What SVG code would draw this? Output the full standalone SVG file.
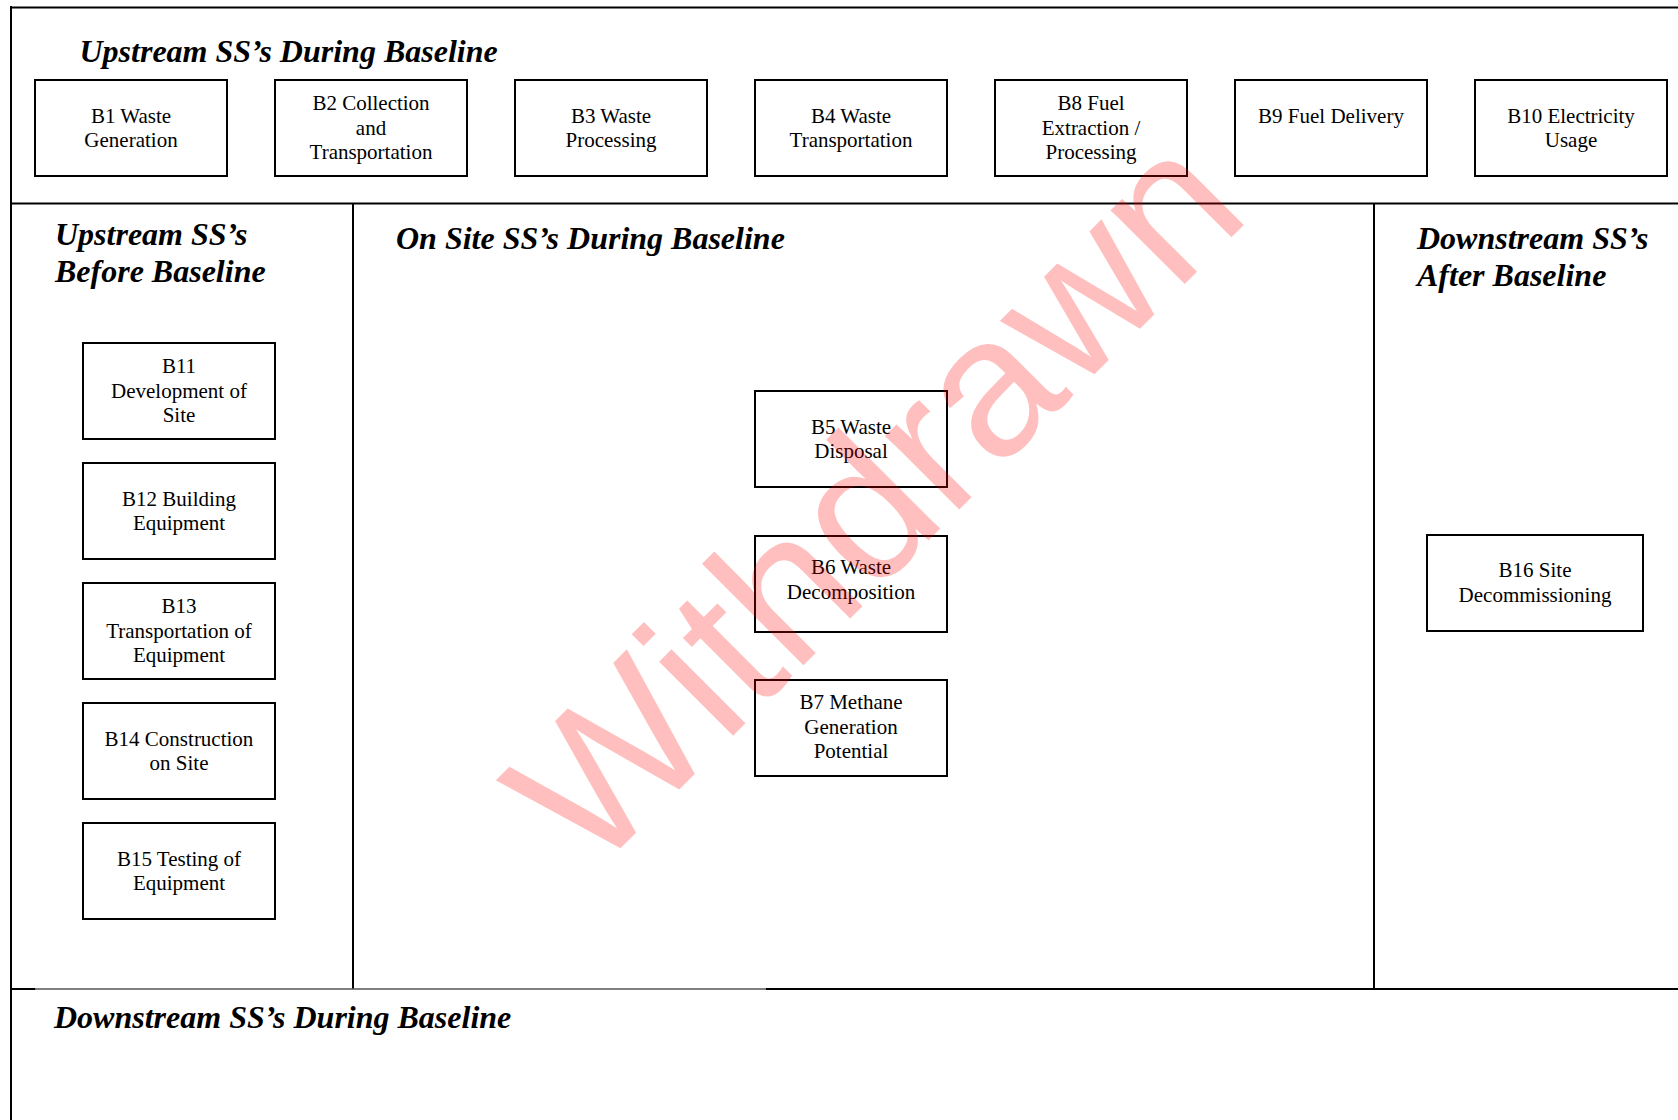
<svg xmlns="http://www.w3.org/2000/svg" width="1678" height="1120" viewBox="0 0 1678 1120">
<style>
.box { fill: #ffffff; stroke: #000000; stroke-width: 2; }
.lbl { font-family: "Liberation Serif", "Times New Roman", serif; font-size: 21px; text-anchor: middle; fill: #000000; }
.ttl { font-family: "Liberation Serif", "Times New Roman", serif; font-size: 32px; font-weight: bold; font-style: italic; fill: #000000; }
.frame { stroke: #000000; stroke-width: 2; fill: none; }
.thin { stroke: #555555; stroke-width: 1.3; fill: none; }
.wm { font-family: "Liberation Sans", Arial, sans-serif; font-size: 198px; fill: #ff0000; fill-opacity: 0.25; }
</style>
<rect x="0" y="0" width="1678" height="1120" fill="#ffffff"/>
<g id="frame">
  <line class="frame" x1="10" y1="7.5" x2="1678" y2="7.5" stroke-width="3"/>
  <line class="frame" x1="11" y1="6" x2="11" y2="1120"/>
  <line class="frame" x1="11" y1="203.5" x2="1678" y2="203.5"/>
  <line class="frame" x1="353" y1="203.5" x2="353" y2="989"/>
  <line class="frame" x1="1374" y1="203.5" x2="1374" y2="989"/>
  <line class="frame" x1="11" y1="989" x2="35.5" y2="989"/>
  <line class="thin" x1="35.5" y1="989" x2="766" y2="989"/>
  <line class="frame" x1="766" y1="989" x2="1678" y2="989"/>
</g>
<g id="titles">
  <text class="ttl" x="79.5" y="61.5">Upstream SS’s During Baseline</text>
  <text class="ttl" x="55" y="245">Upstream SS’s</text>
  <text class="ttl" x="55" y="282">Before Baseline</text>
  <text class="ttl" x="396" y="249">On Site SS’s During Baseline</text>
  <text class="ttl" x="1417" y="249">Downstream SS’s</text>
  <text class="ttl" x="1417" y="286">After Baseline</text>
  <text class="ttl" x="54" y="1028">Downstream SS’s During Baseline</text>
</g>
<g id="connectors"></g>
<g id="B1"><rect class="box" x="35" y="80" width="192" height="96"/><text class="lbl" x="131" y="123">B1 Waste</text><text class="lbl" x="131" y="147">Generation</text></g>
<g id="B2"><rect class="box" x="275" y="80" width="192" height="96"/><text class="lbl" x="371" y="110">B2 Collection</text><text class="lbl" x="371" y="134.5">and</text><text class="lbl" x="371" y="158.5">Transportation</text></g>
<g id="B3"><rect class="box" x="515" y="80" width="192" height="96"/><text class="lbl" x="611" y="123">B3 Waste</text><text class="lbl" x="611" y="147">Processing</text></g>
<g id="B4"><rect class="box" x="755" y="80" width="192" height="96"/><text class="lbl" x="851" y="123">B4 Waste</text><text class="lbl" x="851" y="147">Transportation</text></g>
<g id="B8"><rect class="box" x="995" y="80" width="192" height="96"/><text class="lbl" x="1091" y="110">B8 Fuel</text><text class="lbl" x="1091" y="134.5">Extraction /</text><text class="lbl" x="1091" y="158.5">Processing</text></g>
<g id="B9"><rect class="box" x="1235" y="80" width="192" height="96"/><text class="lbl" x="1331" y="123">B9 Fuel Delivery</text></g>
<g id="B10"><rect class="box" x="1475" y="80" width="192" height="96"/><text class="lbl" x="1571" y="123">B10 Electricity</text><text class="lbl" x="1571" y="147">Usage</text></g>
<g id="B11"><rect class="box" x="83" y="343" width="192" height="96"/><text class="lbl" x="179" y="373">B11</text><text class="lbl" x="179" y="397.5">Development of</text><text class="lbl" x="179" y="422">Site</text></g>
<g id="B12"><rect class="box" x="83" y="463" width="192" height="96"/><text class="lbl" x="179" y="505.5">B12 Building</text><text class="lbl" x="179" y="529.5">Equipment</text></g>
<g id="B13"><rect class="box" x="83" y="583" width="192" height="96"/><text class="lbl" x="179" y="613">B13</text><text class="lbl" x="179" y="637.5">Transportation of</text><text class="lbl" x="179" y="662">Equipment</text></g>
<g id="B14"><rect class="box" x="83" y="703" width="192" height="96"/><text class="lbl" x="179" y="745.5">B14 Construction</text><text class="lbl" x="179" y="769.5">on Site</text></g>
<g id="B15"><rect class="box" x="83" y="823" width="192" height="96"/><text class="lbl" x="179" y="865.5">B15 Testing of</text><text class="lbl" x="179" y="889.5">Equipment</text></g>
<g id="B5"><rect class="box" x="755" y="391" width="192" height="96"/><text class="lbl" x="851" y="433.5">B5 Waste</text><text class="lbl" x="851" y="457.5">Disposal</text></g>
<g id="B6"><rect class="box" x="755" y="536" width="192" height="96"/><text class="lbl" x="851" y="574">B6 Waste</text><text class="lbl" x="851" y="598.5">Decomposition</text></g>
<g id="B7"><rect class="box" x="755" y="680" width="192" height="96"/><text class="lbl" x="851" y="709">B7 Methane</text><text class="lbl" x="851" y="733.5">Generation</text><text class="lbl" x="851" y="757.5">Potential</text></g>
<g id="B16"><rect class="box" x="1427" y="535" width="216" height="96"/><text class="lbl" x="1535" y="577">B16 Site</text><text class="lbl" x="1535" y="601.5">Decommissioning</text></g>
<g id="watermark">
  <text class="wm" x="591.6" y="877.2" transform="rotate(-45 591.6 877.2)">Withdrawn</text>
</g>
</svg>
